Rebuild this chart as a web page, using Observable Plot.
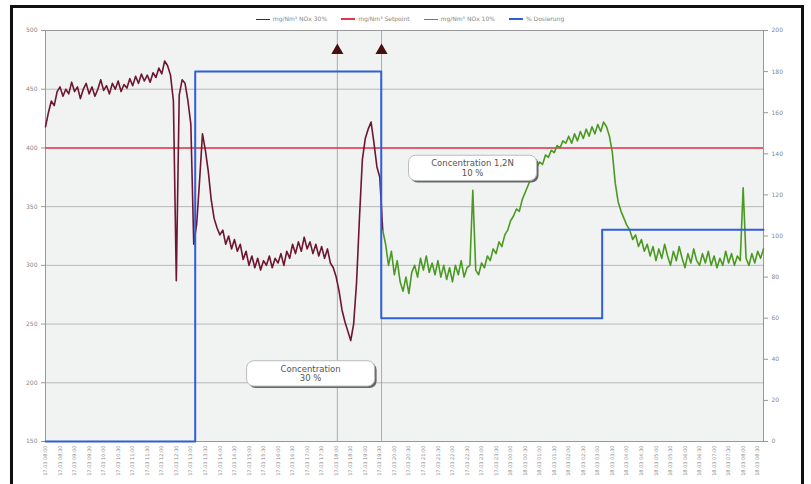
<!DOCTYPE html>
<html><head><meta charset="utf-8">
<script src="https://cdn.jsdelivr.net/npm/d3@7"></script>
<script src="https://cdn.jsdelivr.net/npm/@observablehq/plot@0.6"></script>
<style>
body{margin:0;background:#fff;font-family:"DejaVu Sans",sans-serif;}
#wrap{position:relative;width:811px;height:484px;overflow:hidden;}
#wrap svg{position:absolute;left:0;top:0;display:block;}
#frame{position:absolute;left:10px;top:5px;width:788px;height:490px;border:3px solid #111;pointer-events:none;z-index:5;}
#legend{position:absolute;top:15px;left:210px;width:400px;display:flex;justify-content:center;gap:14px;font-size:6px;color:#888;z-index:4;}
#legend span i{display:inline-block;width:14px;height:0;vertical-align:middle;margin-right:3px;}
</style></head><body>
<div id="wrap">
<div id="legend"></div>
<div id="frame"></div>
</div>
<script>
// ---- data ----
const seriesNames = ["mg/Nm³ NOx 30%", "mg/Nm³ Setpoint", "mg/Nm³ NOx 10%", "% Dosierung"];
const seriesColors = ["#6e1530", "#e8354f", "#4a9a22", "#2f5fd8"];
const leftTicks = [150, 200, 250, 300, 350, 400, 450, 500];
const rightTicks = [0, 20, 40, 60, 80, 100, 120, 140, 160, 180, 200];
const xTickLabels = [
 "17.03 08:00","17.03 08:30","17.03 09:00","17.03 09:30","17.03 10:00","17.03 10:30","17.03 11:00","17.03 11:30",
 "17.03 12:00","17.03 12:30","17.03 13:00","17.03 13:30","17.03 14:00","17.03 14:30","17.03 15:00","17.03 15:30",
 "17.03 16:00","17.03 16:30","17.03 17:00","17.03 17:30","17.03 18:00","17.03 18:30","17.03 19:00","17.03 19:30",
 "17.03 20:00","17.03 20:30","17.03 21:00","17.03 21:30","17.03 22:00","17.03 22:30","17.03 23:00","17.03 23:30",
 "18.03 00:00","18.03 00:30","18.03 01:00","18.03 01:30","18.03 02:00","18.03 02:30","18.03 03:00","18.03 03:30",
 "18.03 04:00","18.03 04:30","18.03 05:00","18.03 05:30","18.03 06:00","18.03 06:30","18.03 07:00","18.03 07:30",
 "18.03 08:00","18.03 08:30"];
const sampleStep = 0.1; // hours between samples
const nox30Start = 0;
const nox30 = [418,430,440,436,448,452,444,450,446,456,448,452,442,450,455,446,452,444,450,458,
 449,453,446,455,450,457,448,454,451,459,453,461,455,463,457,462,456,464,460,468,
 463,474,470,462,440,287,445,458,455,440,420,318,335,372,412,398,380,356,340,332,
 326,330,318,325,314,322,312,318,305,312,300,308,298,306,296,304,300,308,298,306,
 302,310,300,312,306,318,310,320,312,324,314,320,310,318,308,316,306,314,302,298,
 290,278,262,252,244,236,250,285,340,390,408,416,422,404,384,375,330];
const nox10Start = 11.6;
const nox10 = [330,318,300,312,292,304,286,278,290,276,294,300,290,306,296,308,294,302,292,304,
 290,300,288,298,286,300,292,304,290,298,300,364,296,292,302,298,308,304,314,310,
 320,316,326,330,338,342,348,346,356,362,368,374,378,384,388,386,394,392,398,396,
 402,400,406,404,410,404,412,406,414,408,416,410,418,412,420,414,422,418,410,396,
 370,354,346,340,334,330,322,326,316,322,312,318,308,316,304,314,306,318,308,300,
 312,304,316,306,298,310,302,314,304,300,310,302,312,300,308,298,306,300,312,302,
 310,300,308,304,366,306,300,310,302,312,306,314];
const setpoint = 400;
const dosingTimes = [0, 5.15, 11.55, 19.15, 24.7];
const dosingValues = [0, 180, 60, 103, 103];
const eventTimes = [10.04, 11.56];
const eventMarkerLevel = 483;
const annotations = [
  {t: 9.12, v: 208, text: "Concentration\n30 %"},
  {t: 14.69, v: 383, text: "Concentration 1,2N\n10 %"}
];

// ---- derived tables ----
const toLeft = d => 150 + d * 1.75;  // right axis (0-200) onto left axis (150-500)
const nox30Data = nox30.map((v, i) => ({t: nox30Start + i * sampleStep, v}));
const nox10Data = nox10.map((v, i) => ({t: nox10Start + i * sampleStep, v}));
const dosingData = dosingTimes.map((t, i) => ({t, v: toLeft(dosingValues[i])}));
const xTicks = xTickLabels.map((_, i) => i * 0.5);

const plot = Plot.plot({
  width: 811, height: 484,
  marginLeft: 45, marginRight: 48, marginTop: 30, marginBottom: 43,
  style: {fontFamily: "DejaVu Sans, sans-serif", background: "transparent"},
  x: {domain: [0, 24.7]},
  y: {domain: [150, 500]},
  marks: [
    Plot.frame({fill: "#f1f2f2", stroke: "none"}),
    Plot.gridY(leftTicks.slice(1, -1), {stroke: "#aaa", strokeOpacity: 0.8}),
    Plot.ruleX(eventTimes, {stroke: "#999", strokeWidth: 0.8}),
    Plot.frame({stroke: "#999", strokeWidth: 1}),
    Plot.axisY(leftTicks, {anchor: "left", tickSize: 4, fontSize: 6, fill: "#888", stroke: "#999", tickPadding: 4, label: null}),
    Plot.axisY(rightTicks.map(toLeft), {anchor: "right", tickSize: 4, fontSize: 6, fill: "#888", stroke: "#999", tickPadding: 4, label: null,
      tickFormat: d => String(Math.round((d - 150) / 1.75))}),
    Plot.axisX(xTicks, {anchor: "bottom", tickRotate: -90, tickSize: 0, tickPadding: 4, fontSize: 5, fill: "#888", label: null,
      tickFormat: d => xTickLabels[Math.round(d * 2)]}),
    Plot.ruleY([setpoint], {stroke: seriesColors[1], strokeWidth: 1.6}),
    Plot.line(nox30Data, {x: "t", y: "v", stroke: seriesColors[0], strokeWidth: 1.6}),
    Plot.line(nox10Data, {x: "t", y: "v", stroke: seriesColors[2], strokeWidth: 1.6}),
    Plot.line(dosingData, {x: "t", y: "v", curve: "step-after", stroke: seriesColors[3], strokeWidth: 2}),
    Plot.dot(eventTimes, {x: d => d, y: () => eventMarkerLevel, symbol: "triangle", r: 4.5, fill: "#4a0d10", stroke: "none"}),
    Plot.text(annotations, {x: "t", y: "v", text: "text", fontSize: 8.5, fill: "#555", lineHeight: 1.1})
  ]
});
document.getElementById("wrap").prepend(plot);

// legend
const lg = document.getElementById("legend");
seriesNames.forEach((n, i) => {
  const s = document.createElement("span");
  s.innerHTML = `<i style="border-top:${i === 0 || i === 2 ? 1 : 2}px solid ${seriesColors[i]}"></i>${n}`;
  lg.appendChild(s);
});

// annotation boxes
const ns = "http://www.w3.org/2000/svg";
Array.from(plot.querySelectorAll("text"))
  .filter(t => t.textContent.startsWith("Concentration"))
  .forEach(t => {
    let b;
    try { b = t.getBBox(); } catch (e) { b = null; }
    if (!b || !b.width) return;
    const w = 128, h = b.height + 6;
    const cx = b.x + b.width / 2, cy = b.y + b.height / 2;
    const tr = t.getAttribute("transform") || "";
    const mk = (dx, fill, stroke) => {
      const r = document.createElementNS(ns, "rect");
      r.setAttribute("x", cx - w / 2 + dx); r.setAttribute("y", cy - h / 2 + dx);
      r.setAttribute("width", w); r.setAttribute("height", h); r.setAttribute("rx", 7);
      r.setAttribute("fill", fill);
      if (stroke) r.setAttribute("stroke", stroke);
      if (tr) r.setAttribute("transform", tr);
      t.parentNode.insertBefore(r, t);
    };
    mk(2, "#666", null);
    mk(0, "#fff", "#bbb");
  });
</script>
</body></html>
